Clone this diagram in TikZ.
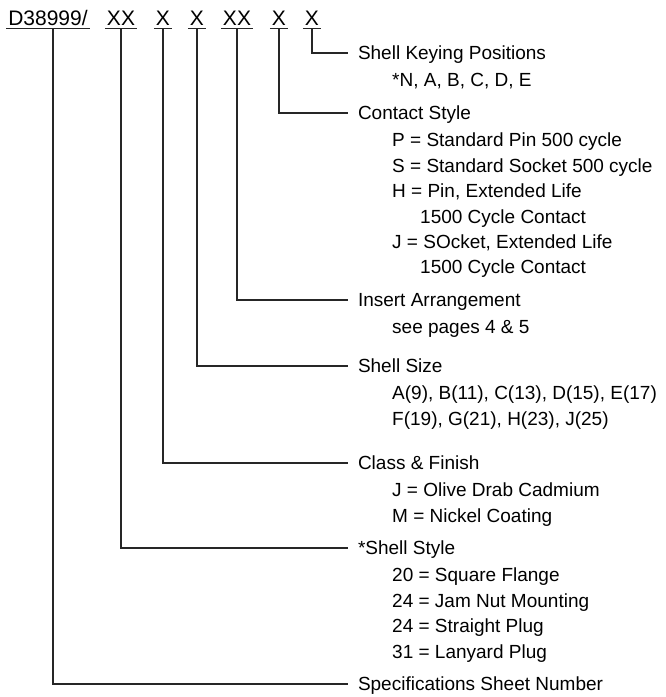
\documentclass[tikz,border=0pt]{standalone}
\usepackage{fontspec}
\setmainfont{Liberation Sans}
\usetikzlibrary{positioning}

\begin{document}
\begin{tikzpicture}[
            x=1pt, y=1pt,
            font=\fontsize{19}{25.4}\selectfont,
            code/.style={font=\fontsize{21}{25}\selectfont, anchor=base,
            inner xsep=2pt, inner ysep=3pt, text depth=0pt},
            lbl/.style={anchor=west, inner sep=0pt, outer xsep=10pt,
            text height=13.6pt, text depth=0pt},
            info/.style={anchor=north west, align=left, inner sep=0pt},
            lead/.style={line width=1.2pt, black!85}
        ]
            \useasboundingbox (0,0) rectangle (665,-697);

% --- part number fields ---
            \node[code] (hspec)    at (48,-25)  {D38999/};
            \node[code] (hstyle)   at (121,-25) {XX};
            \node[code] (hclass)   at (163,-25) {X};
            \node[code] (hsize)    at (197,-25) {X};
            \node[code] (hinsert)  at (237,-25) {XX};
            \node[code] (hcontact) at (279,-25) {X};
            \node[code] (hkey)     at (312,-25) {X};

            \foreach \n in {hspec,hstyle,hclass,hsize,hinsert,hcontact,hkey}
                \draw[lead] (\n.south west) -- (\n.south east);

% --- field descriptions ---
            \node[lbl] (keying)  at (348,-53)  {Shell Keying Positions};
            \node[lbl] (contact) at (348,-113) {Contact Style};
            \node[lbl] (insert)  at (348,-300) {Insert Arrangement};
            \node[lbl] (size)    at (348,-366) {Shell Size};
            \node[lbl] (class)   at (348,-463) {Class \& Finish};
            \node[lbl] (shstyle) at (348,-548) {*Shell Style};
            \node[lbl] (spec)    at (348,-684) {Specifications Sheet Number};

            \node[info] (keyinfo) at ([shift={(44,-20)}]keying.west) {*N, A, B, C, D, E};
            \node[info] (continfo) at ([shift={(44,-20)}]contact.west)
                {P = Standard Pin 500 cycle\\
                 S = Standard Socket 500 cycle\\
                 H = Pin, Extended Life\\
                 \hspace*{28pt}1500 Cycle Contact\\
                 J = SOcket, Extended Life\\
                 \hspace*{28pt}1500 Cycle Contact};
            \node[info] (insinfo) at ([shift={(44,-20)}]insert.west) {see pages 4 \& 5};
            \node[info] (sizeinfo) at ([shift={(44,-20)}]size.west)
                {A(9), B(11), C(13), D(15), E(17)\\
                 F(19), G(21), H(23), J(25)};
            \node[info] (classinfo) at ([shift={(44,-20)}]class.west)
                {J = Olive Drab Cadmium\\
                 M = Nickel Coating};
            \node[info] (styleinfo) at ([shift={(44,-20)}]shstyle.west)
                {20 = Square Flange\\
                 24 = Jam Nut Mounting\\
                 24 = Straight Plug\\
                 31 = Lanyard Plug};

% leaders from each field down and across
            \draw[lead] (hkey.south)     |- (keying.west);
            \draw[lead] (hcontact.south) |- (contact.west);
            \draw[lead] (hinsert.south)  |- (insert.west);
            \draw[lead] (hsize.south)    |- (size.west);
            \draw[lead] (hclass.south)   |- (class.west);
            \draw[lead] (hstyle.south)   |- (shstyle.west);
            \draw[lead] ([xshift=5pt]hspec.south) |- (spec.west);
        \end{tikzpicture}
\end{document}
